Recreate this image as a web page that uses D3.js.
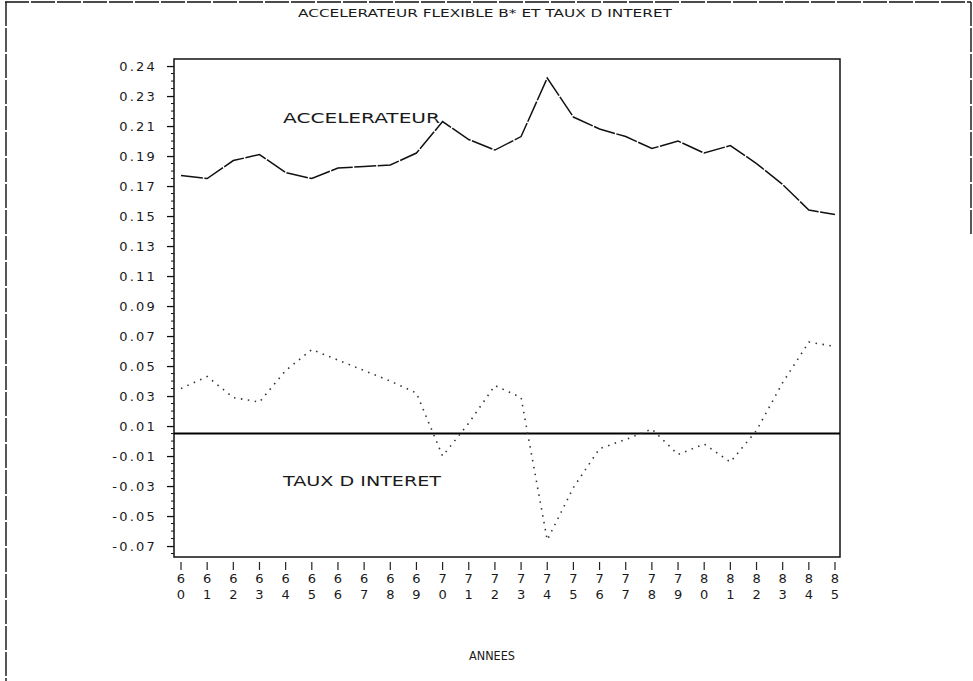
<!DOCTYPE html>
<html>
<head>
<meta charset="utf-8">
<script src="https://cdn.jsdelivr.net/npm/d3@7"></script>
<style>
  html, body { margin: 0; padding: 0; background: #fff; }
  svg { display: block; }
  text { font-family: "DejaVu Sans", "Liberation Sans", sans-serif; fill: #1a1a1a; }
</style>
</head>
<body>
<svg id="chart" width="973" height="681"></svg>
<script>
// Years on the horizontal axis (two-digit labels are stacked vertically)
const years = [1960, 1961, 1962, 1963, 1964, 1965, 1966, 1967, 1968, 1969,
               1970, 1971, 1972, 1973, 1974, 1975, 1976, 1977, 1978, 1979,
               1980, 1981, 1982, 1983, 1984, 1985];

// Flexible accelerator coefficient B*
const accelerateur = [0.172, 0.170, 0.182, 0.186, 0.174, 0.170, 0.177, 0.178, 0.179, 0.187,
                      0.208, 0.196, 0.189, 0.198, 0.237, 0.211, 0.203, 0.198, 0.190, 0.195,
                      0.187, 0.192, 0.180, 0.166, 0.149, 0.146];

// Interest rate
const tauxInteret = [0.030, 0.038, 0.024, 0.021, 0.042, 0.056, 0.049, 0.042, 0.035, 0.027,
                     -0.015, 0.007, 0.032, 0.024, -0.071, -0.036, -0.010, -0.004, 0.003, -0.014,
                     -0.007, -0.019, 0.002, 0.034, 0.061, 0.058];

// Vertical axis: tick positions and the rounded labels printed beside them
const yTickValues = [0.245, 0.225, 0.205, 0.185, 0.165, 0.145, 0.125, 0.105, 0.085,
                     0.065, 0.045, 0.025, 0.005, -0.015, -0.035, -0.055, -0.075];
const yTickLabels = ["0.24", "0.23", "0.21", "0.19", "0.17", "0.15", "0.13", "0.11", "0.09",
                     "0.07", "0.05", "0.03", "0.01", "-0.01", "-0.03", "-0.05", "-0.07"];

const xTickLabels = ["60", "61", "62", "63", "64", "65", "66", "67", "68", "69",
                     "70", "71", "72", "73", "74", "75", "76", "77", "78", "79",
                     "80", "81", "82", "83", "84", "85"];

const svg = d3.select("#chart");

// Plot frame
const frame = { left: 174, right: 840, top: 59, bottom: 557 };

const x = d3.scaleLinear().domain([1960, 1985]).range([181, 835]);
const y = d3.scaleLinear().domain([-0.0823, 0.2497]).range([frame.bottom, frame.top]);

// Page border
const border = svg.append("g")
  .attr("fill", "none").attr("stroke", "#111").attr("stroke-width", 1.4)
  .attr("stroke-dasharray", "24,2");
border.append("line").attr("x1", 5).attr("x2", 971).attr("y1", 2).attr("y2", 2);
border.append("line").attr("x1", 6).attr("x2", 6).attr("y1", 2).attr("y2", 681);
border.append("line").attr("x1", 971).attr("x2", 971).attr("y1", 2).attr("y2", 236);

// Title
svg.append("text")
  .attr("x", 298).attr("y", 17)
  .attr("font-size", 11)
  .attr("textLength", 374).attr("lengthAdjust", "spacingAndGlyphs")
  .text("ACCELERATEUR FLEXIBLE B* ET TAUX D INTERET");

// Frame box
svg.append("rect")
  .attr("x", frame.left).attr("y", frame.top)
  .attr("width", frame.right - frame.left).attr("height", frame.bottom - frame.top)
  .attr("fill", "none").attr("stroke", "#111").attr("stroke-width", 1.5);

// Y axis ticks (major + minor) and labels
const yAxisG = svg.append("g").attr("transform", `translate(${frame.left},0)`);
const yAxis = d3.axisLeft(y)
  .tickValues(yTickValues)
  .tickSize(7)
  .tickPadding(10)
  .tickFormat((d, i) => yTickLabels[i]);
yAxisG.call(yAxis);
yAxisG.select(".domain").remove();
yAxisG.selectAll(".tick line").attr("stroke", "#111").attr("stroke-width", 1.3);
yAxisG.selectAll(".tick text")
  .attr("font-size", 13)
  .attr("fill", "#222")
  .attr("font-family", "\"DejaVu Sans\", sans-serif")
  .attr("letter-spacing", 2.2);

const minorVals = [];
yTickValues.forEach(v => { for (let k = 1; k < 4; k++) minorVals.push(v - k * 0.005); });
yAxisG.selectAll(".minor").data(minorVals.filter(v => v > -0.0823))
  .join("line").attr("class", "minor")
  .attr("x1", -3).attr("x2", 0)
  .attr("y1", d => y(d)).attr("y2", d => y(d))
  .attr("stroke", "#111").attr("stroke-width", 1);

// X axis ticks and stacked two-digit year labels
const xg = svg.append("g");
xg.selectAll("line.xt").data(years).join("line").attr("class", "xt")
  .attr("x1", d => x(d)).attr("x2", d => x(d))
  .attr("y1", 562).attr("y2", 570)
  .attr("stroke", "#222").attr("stroke-width", 1.2);
xg.selectAll("text.d1").data(years).join("text").attr("class", "d1")
  .attr("x", d => x(d)).attr("y", 583)
  .attr("text-anchor", "middle").attr("font-size", 13).attr("fill", "#333")
  .text((d, i) => xTickLabels[i][0]);
xg.selectAll("text.d2").data(years).join("text").attr("class", "d2")
  .attr("x", d => x(d)).attr("y", 599)
  .attr("text-anchor", "middle").attr("font-size", 13).attr("fill", "#333")
  .text((d, i) => xTickLabels[i][1]);

svg.append("text")
  .attr("x", 492).attr("y", 660)
  .attr("text-anchor", "middle").attr("font-size", 13).attr("fill", "#333")
  .attr("textLength", 46).attr("lengthAdjust", "spacingAndGlyphs")
  .text("ANNEES");

// Zero reference line
svg.append("line")
  .attr("x1", frame.left).attr("x2", frame.right)
  .attr("y1", y(0)).attr("y2", y(0))
  .attr("stroke", "#000").attr("stroke-width", 2);

// Series
const line = d3.line().x((d, i) => x(years[i])).y(d => y(d));

svg.append("path").datum(accelerateur)
  .attr("d", line)
  .attr("fill", "none").attr("stroke", "#111").attr("stroke-width", 1.5)
  .attr("stroke-dasharray", "22,1.5");

svg.append("path").datum(tauxInteret)
  .attr("d", line)
  .attr("fill", "none").attr("stroke", "#333").attr("stroke-width", 1.6)
  .attr("stroke-dasharray", "1.5,5.5");

// Series names
svg.append("text")
  .attr("x", 283).attr("y", 123)
  .attr("font-size", 14).attr("fill", "#222")
  .attr("textLength", 157).attr("lengthAdjust", "spacingAndGlyphs")
  .text("ACCELERATEUR");

svg.append("text")
  .attr("x", 283).attr("y", 486)
  .attr("font-size", 14).attr("fill", "#222")
  .attr("textLength", 158).attr("lengthAdjust", "spacingAndGlyphs")
  .text("TAUX D INTERET");
</script>
</body>
</html>
